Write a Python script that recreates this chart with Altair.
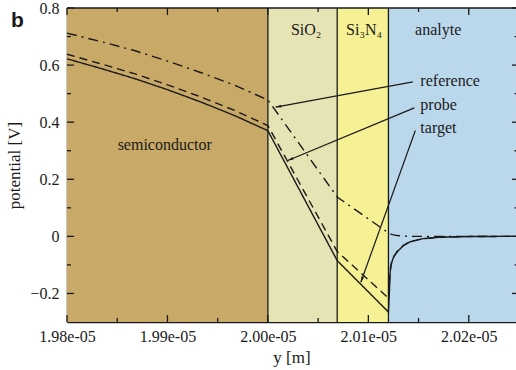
import math
import altair as alt
import pandas as pd

# ---- plot geometry -------------------------------------------------------
W, H = 449, 314
X_MIN, X_MAX = 1.98e-5, 2.0247e-5
Y_MIN, Y_MAX = -0.3, 0.8
SERIF = "Liberation Serif"
INK = "#1a1a1a"

# ---- layer stack -----------------------------------------------------------
region_names = ["semiconductor", "SiO2", "Si3N4", "analyte"]
region_start = [1.98e-5, 2.0000e-5, 2.0069e-5, 2.0120e-5]
region_end = [2.0000e-5, 2.0069e-5, 2.0120e-5, 2.0247e-5]
region_colors = ["#c9a967", "#e6e3b5", "#f6f194", "#bad7ec"]
interfaces = [2.0000e-5, 2.0069e-5, 2.0120e-5]

region_label_text = ["semiconductor", "SiO\u2082", "Si\u2083N\u2084", "analyte"]
region_label_x = [1.98973e-5, 2.00381e-5, 2.00958e-5, 2.01695e-5]
region_label_y = [0.321, 0.724, 0.724, 0.724]

# ---- potential profiles -----------------------------------------------------
pos = [1.9800e-5, 1.9833e-5, 1.9867e-5, 1.9900e-5, 1.9933e-5, 1.9967e-5,
       2.0000e-5, 2.0069e-5, 2.0120e-5, 2.01209e-5, 2.01217e-5, 2.01232e-5,
       2.01252e-5, 2.01287e-5, 2.01347e-5, 2.01416e-5, 2.01546e-5,
       2.01715e-5, 2.02014e-5, 2.0247e-5]
pot_target = [0.622, 0.589, 0.553, 0.514, 0.471, 0.423, 0.370, -0.085,
              -0.265, -0.200, -0.125, -0.092, -0.072, -0.054, -0.033,
              -0.019, -0.008, -0.003, -0.0005, 0.0]
pot_probe = [0.638, 0.605, 0.570, 0.531, 0.489, 0.441, 0.388, -0.053,
             -0.216, -0.170, -0.115, -0.090, -0.071, -0.053, -0.032,
             -0.018, -0.008, -0.003, -0.0005, 0.0]
pot_reference = [0.712, 0.683, 0.651, 0.614, 0.574, 0.529, 0.478, 0.138,
                 0.012, 0.011, 0.009, 0.007, 0.005, 0.003, 0.001,
                 0.0, 0.0, 0.0, 0.0, 0.0]

# ---- annotation arrows ------------------------------------------------------
arrow_names = ["reference", "probe", "target"]
arrow_x0 = [2.01443e-5, 2.01458e-5, 2.01468e-5]
arrow_y0 = [0.541, 0.450, 0.371]
arrow_x1 = [2.00077e-5, 2.00198e-5, 2.00925e-5]
arrow_y1 = [0.453, 0.266, -0.161]
label_x = [2.01518e-5, 2.01518e-5, 2.01518e-5]
label_y = [0.543, 0.461, 0.381]

# ---- ticks ------------------------------------------------------------------
x_major = [1.98e-5, 1.99e-5, 2.00e-5, 2.01e-5, 2.02e-5]
x_minor = [1.985e-5, 1.995e-5, 2.005e-5, 2.015e-5]
y_major = [-0.2, 0.0, 0.2, 0.4, 0.6, 0.8]
y_minor = [-0.1, 0.1, 0.3, 0.5, 0.7]

xs = alt.Scale(domain=[X_MIN, X_MAX], nice=False, zero=False)
ys = alt.Scale(domain=[Y_MIN, Y_MAX], nice=False, zero=False)

x_axis = alt.Axis(values=x_major, ticks=False, grid=False,
                  labelExpr="replace(format(datum.value, '.2e'), 'e-', 'e-0')",
                  labelFlush=False, labelOverlap=False,
                  labelPadding=6, titlePadding=5)
y_axis = alt.Axis(values=y_major, ticks=False, grid=False, format=".1~f",
                  labelFlush=False, labelOverlap=False,
                  labelPadding=8, titlePadding=6)


def X(field):
    return alt.X(field, type="quantitative", scale=xs, axis=x_axis, title="y [m]")


def Y(field):
    return alt.Y(field, type="quantitative", scale=ys, axis=y_axis, title="potential [V]")


regions = pd.DataFrame({"name": region_names, "x0": region_start, "x1": region_end})
bands = alt.Chart(regions).mark_rect(strokeWidth=0).encode(
    x=X("x0"), x2="x1",
    y=alt.value(0), y2=alt.value(H),
    color=alt.Color("name:N", scale=alt.Scale(domain=region_names, range=region_colors), legend=None),
)

walls = alt.Chart(pd.DataFrame({"x": interfaces})).mark_rule(color=INK, strokeWidth=1.3).encode(
    x=X("x"), y=alt.value(0), y2=alt.value(H)
)

rows = []
for name, vals in [("target", pot_target), ("probe", pot_probe), ("reference", pot_reference)]:
    for i, (p, v) in enumerate(zip(pos, vals)):
        rows.append({"series": name, "y": p, "v": v, "i": i})
profiles = pd.DataFrame(rows)

curves = alt.Chart(profiles).mark_line(color=INK, strokeWidth=1.4).encode(
    x=X("y"),
    y=Y("v"),
    strokeDash=alt.StrokeDash("series:N", scale=alt.Scale(
        domain=["target", "probe", "reference"],
        range=[[1, 0], [8, 5], [10, 5, 2, 5]]), legend=None),
    order="i:Q",
    detail="series:N",
)

region_labels = alt.Chart(pd.DataFrame({
    "t": region_label_text, "x": region_label_x, "y": region_label_y
})).mark_text(font=SERIF, fontSize=16, color=INK, align="center", baseline="middle").encode(
    x=X("x"), y=Y("y"), text="t:N"
)

# arrow shafts, heads and labels
kx = W / (X_MAX - X_MIN)
ky = H / (Y_MAX - Y_MIN)
angles = []
for a, b, c, d in zip(arrow_x0, arrow_y0, arrow_x1, arrow_y1):
    dx = (c - a) * kx
    dy = -(d - b) * ky
    angles.append(math.degrees(math.atan2(dx, -dy)) % 360)

arrows = pd.DataFrame({
    "name": arrow_names, "x0": arrow_x0, "y0": arrow_y0,
    "x1": arrow_x1, "y1": arrow_y1, "ang": angles,
    "lx": label_x, "ly": label_y,
})
shafts = alt.Chart(arrows).mark_rule(color=INK, strokeWidth=1.2).encode(
    x=X("x0"), y=Y("y0"), x2="x1", y2="y1"
)
heads = alt.Chart(arrows).mark_point(
    shape="M0,0 L-0.45,1.8 L0.45,1.8 Z", filled=True, size=40, color=INK, opacity=1
).encode(
    x=X("x1"), y=Y("y1"), angle=alt.Angle("ang:Q", scale=None)
)
arrow_labels = alt.Chart(arrows).mark_text(
    font=SERIF, fontSize=16, color=INK, align="left", baseline="middle"
).encode(x=X("lx"), y=Y("ly"), text="name:N")

# inward ticks on all four sides
xt_major = pd.DataFrame({"x": x_major})
xt_minor = pd.DataFrame({"x": x_minor})
yt_major = pd.DataFrame({"y": y_major})
yt_minor = pd.DataFrame({"y": y_minor})
tick = dict(color=INK, strokeWidth=1.3)
tick_layers = [
    alt.Chart(xt_major).mark_rule(**tick).encode(x=X("x"), y=alt.value(H), y2=alt.value(H - 7)),
    alt.Chart(xt_major).mark_rule(**tick).encode(x=X("x"), y=alt.value(0), y2=alt.value(7)),
    alt.Chart(xt_minor).mark_rule(**tick).encode(x=X("x"), y=alt.value(H), y2=alt.value(H - 4)),
    alt.Chart(xt_minor).mark_rule(**tick).encode(x=X("x"), y=alt.value(0), y2=alt.value(4)),
    alt.Chart(yt_major).mark_rule(**tick).encode(y=Y("y"), x=alt.value(0), x2=alt.value(7)),
    alt.Chart(yt_minor).mark_rule(**tick).encode(y=Y("y"), x=alt.value(0), x2=alt.value(4)),
    alt.Chart(yt_major).mark_rule(**tick).encode(y=Y("y"), x=alt.value(W - 4), x2=alt.value(W)),
    alt.Chart(yt_minor).mark_rule(**tick).encode(y=Y("y"), x=alt.value(W - 1.5), x2=alt.value(W)),
]

top_edge = alt.Chart(pd.DataFrame({"k": [0]})).mark_rule(color=INK, strokeWidth=1.5).encode(
    x=alt.value(0), x2=alt.value(W), y=alt.value(0)
)

panel = alt.Chart(pd.DataFrame({"t": ["b"]})).mark_text(
    font="Liberation Sans", fontWeight="bold", fontSize=21, color=INK,
    align="center", baseline="alphabetic"
).encode(x=alt.value(-49.5), y=alt.value(19), text="t:N")

chart = alt.layer(
    bands, walls, curves, region_labels, shafts, heads, arrow_labels,
    *tick_layers, top_edge, panel
).properties(
    width=W, height=H,
    autosize=alt.AutoSizeParams(type="none"),
    padding={"left": 67, "top": 8, "right": 0, "bottom": 48},
    background="white",
).configure_view(stroke=None).configure_axis(
    domainColor=INK, domainWidth=1.5,
    labelFont=SERIF, labelFontSize=16, labelColor=INK,
    titleFont=SERIF, titleFontSize=17, titleColor=INK, titleFontWeight="normal",
)

chart.save("out.html", embed_options={"renderer": "svg", "actions": False})
